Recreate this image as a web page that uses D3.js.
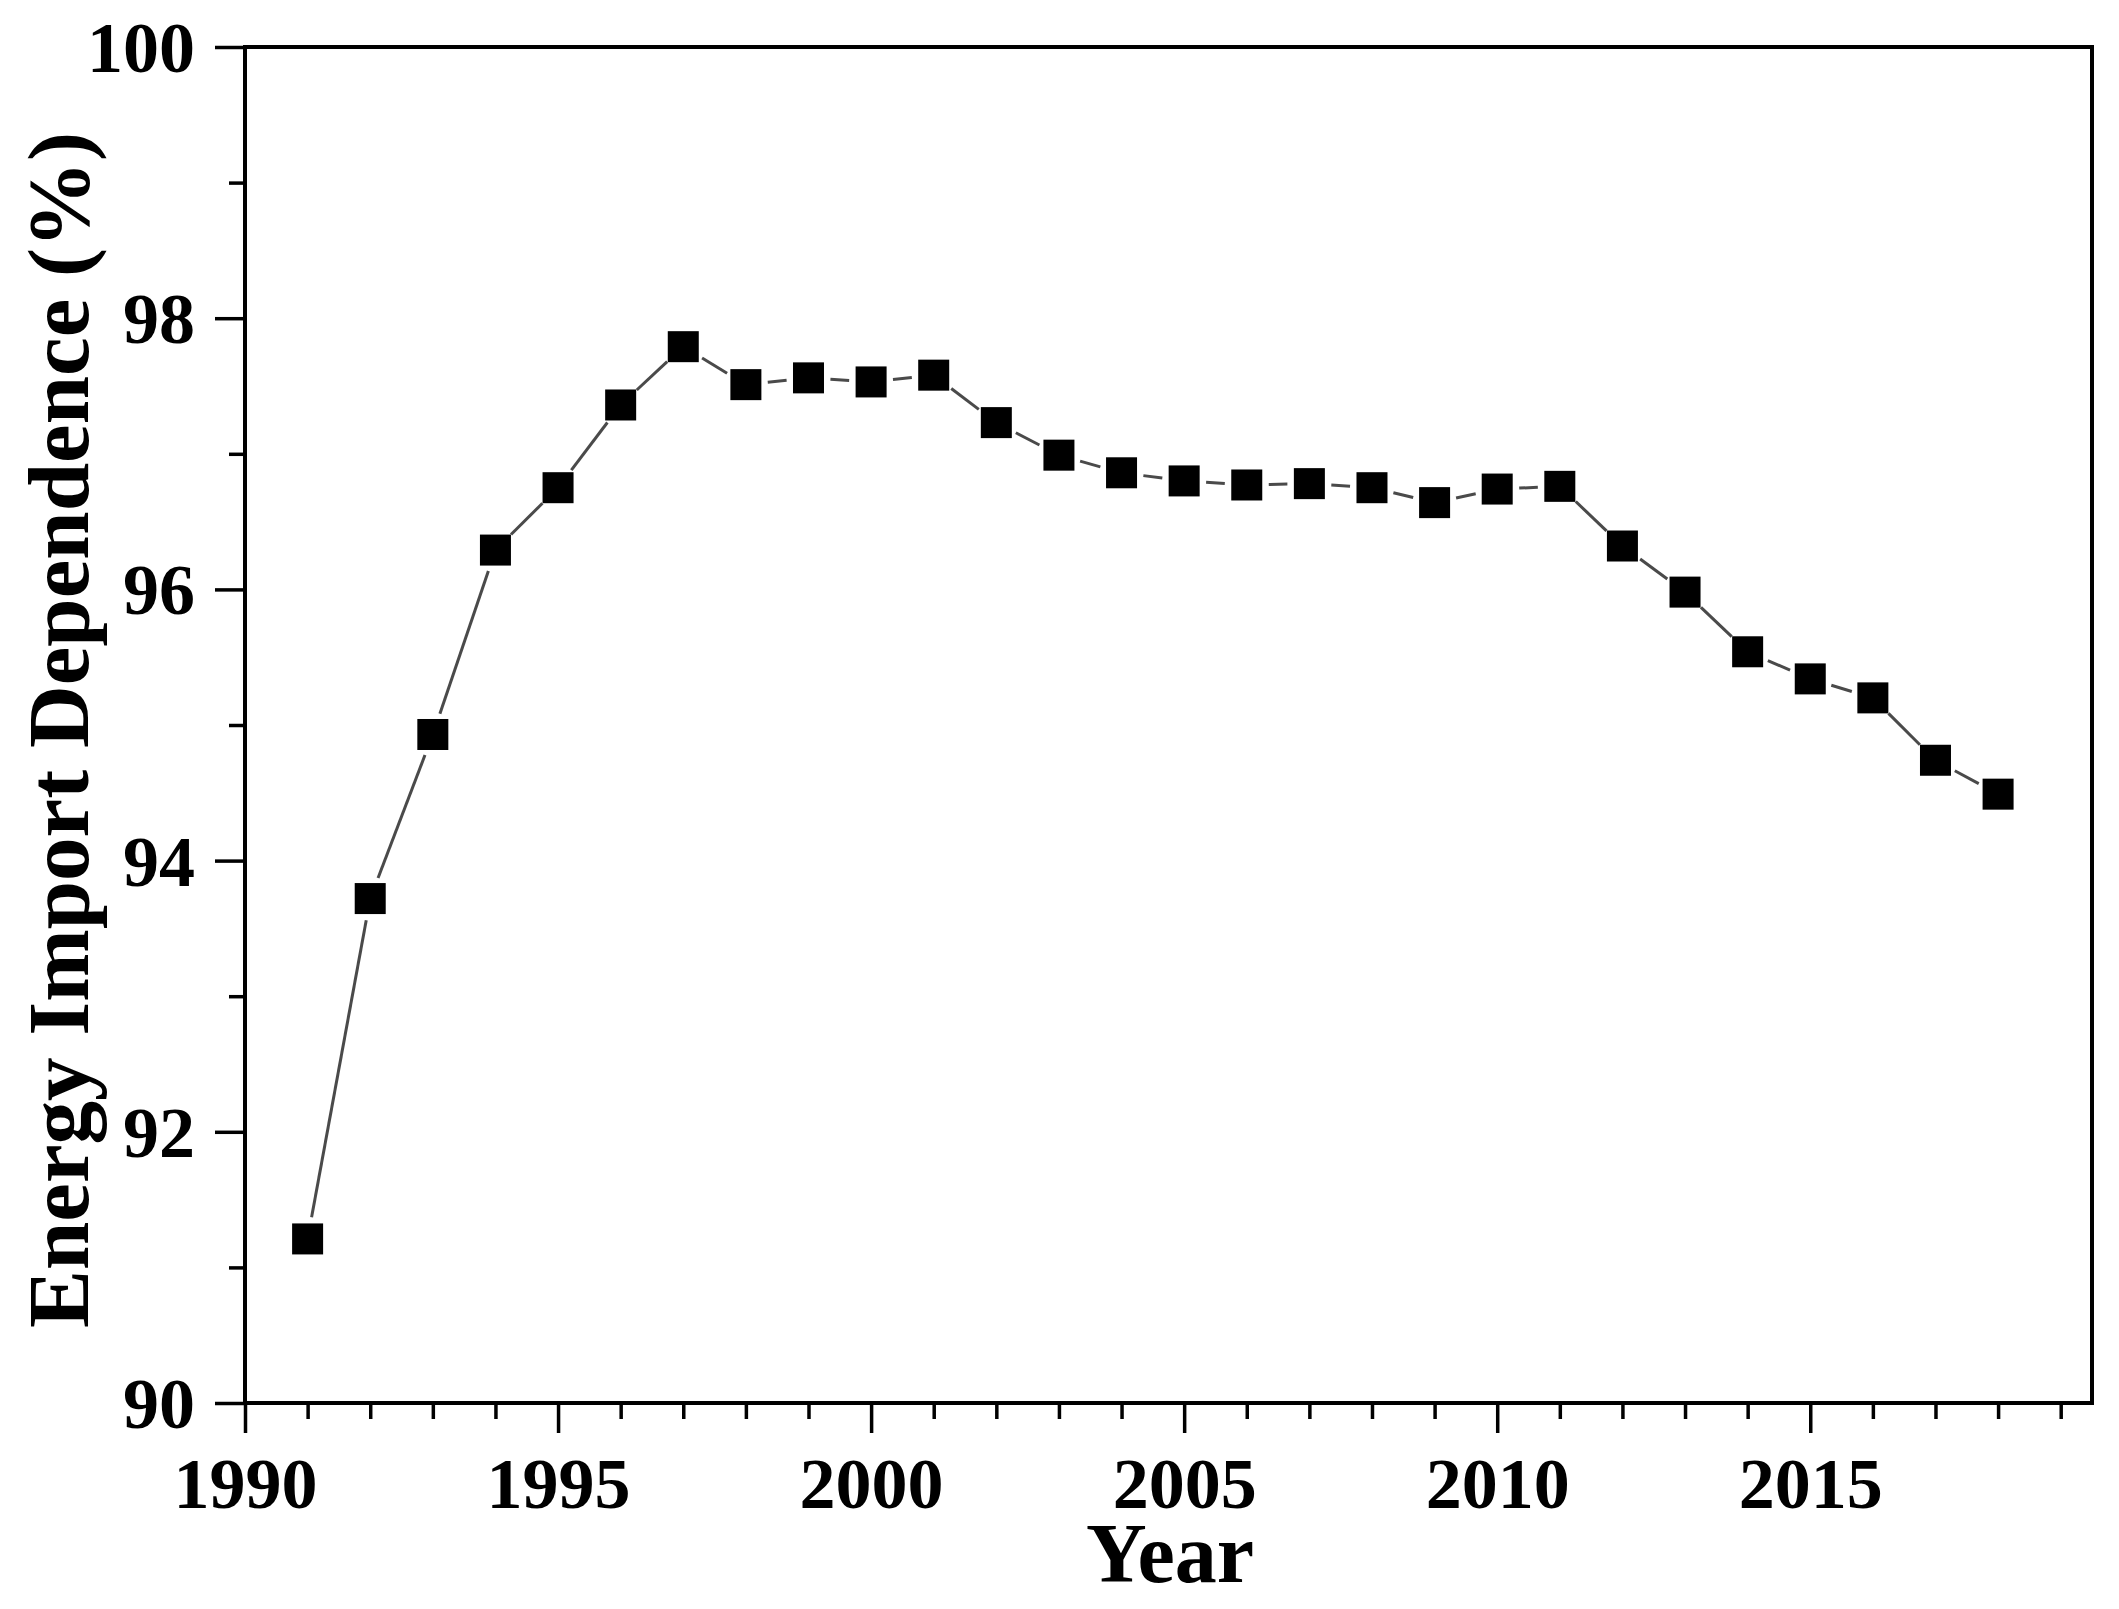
<!DOCTYPE html>
<html>
<head>
<meta charset="utf-8">
<script src="https://cdn.jsdelivr.net/npm/d3@7"></script>
<style>
  html, body { margin: 0; padding: 0; background: #fff; }
  svg { display: block; }
  text { font-family: "Liberation Serif", "Times New Roman", serif; font-weight: bold; fill: #000; }
</style>
</head>
<body>
<svg id="chart"></svg>
<script>
// Data
const years = [1991, 1992, 1993, 1994, 1995, 1996, 1997, 1998, 1999, 2000,
               2001, 2002, 2003, 2004, 2005, 2006, 2007, 2008, 2009, 2010,
               2011, 2012, 2013, 2014, 2015, 2016, 2017, 2018];
const dependence = [91.21, 93.72, 94.93, 96.29, 96.75, 97.36, 97.79, 97.51, 97.56, 97.53,
                    97.58, 97.23, 96.99, 96.86, 96.80, 96.77, 96.78, 96.75, 96.64, 96.74,
                    96.76, 96.32, 95.98, 95.54, 95.34, 95.20, 94.74, 94.49];
const xMajorTicks = [1990, 1995, 2000, 2005, 2010, 2015];
const xMinorTicks = d3.range(1991, 2020).filter(y => y % 5 !== 0);
const yMajorTicks = [90, 92, 94, 96, 98, 100];
const yMinorTicks = [91, 93, 95, 97, 99];

const width = 2119, height = 1609;
const margin = { top: 47, right: 27, bottom: 206, left: 245 };

const svg = d3.select('#chart').attr('width', width).attr('height', height);

const x = d3.scaleLinear().domain([1990, 2019.5]).range([margin.left, width - margin.right]);
const y = d3.scaleLinear().domain([90, 100]).range([height - margin.bottom, margin.top]);

const tickFont = 72;

// x axis: major ticks with labels, minor ticks without
svg.append('g')
  .attr('transform', `translate(0,${y(90)})`)
  .call(d3.axisBottom(x).tickValues(xMajorTicks).tickFormat(d3.format('d')).tickSize(30).tickPadding(24))
  .call(g => g.select('.domain').remove())
  .call(g => g.selectAll('.tick line').attr('stroke', '#000').attr('stroke-width', 3.5))
  .call(g => g.selectAll('.tick text').attr('font-size', tickFont).attr('fill', '#000'));

svg.append('g')
  .attr('transform', `translate(0,${y(90)})`)
  .call(d3.axisBottom(x).tickValues(xMinorTicks).tickFormat('').tickSize(16))
  .call(g => g.select('.domain').remove())
  .call(g => g.selectAll('.tick line').attr('stroke', '#000').attr('stroke-width', 3.5));

// y axis
svg.append('g')
  .attr('transform', `translate(${x(1990)},0)`)
  .call(d3.axisLeft(y).tickValues(yMajorTicks).tickFormat(d3.format('d')).tickSize(30).tickPadding(20))
  .call(g => g.select('.domain').remove())
  .call(g => g.selectAll('.tick line').attr('stroke', '#000').attr('stroke-width', 3.5))
  .call(g => g.selectAll('.tick text').attr('font-size', tickFont).attr('fill', '#000').attr('dy', '0.34em'));

svg.append('g')
  .attr('transform', `translate(${x(1990)},0)`)
  .call(d3.axisLeft(y).tickValues(yMinorTicks).tickFormat('').tickSize(16))
  .call(g => g.select('.domain').remove())
  .call(g => g.selectAll('.tick line').attr('stroke', '#000').attr('stroke-width', 3.5));

// frame
svg.append('rect')
  .attr('x', x(1990)).attr('y', y(100))
  .attr('width', x(2019.5) - x(1990)).attr('height', y(90) - y(100))
  .attr('fill', 'none').attr('stroke', '#000').attr('stroke-width', 4);

// connecting line, with a gap round each symbol
const pts = years.map((yr, i) => [x(yr), y(dependence[i])]);
const gap = 22;
const segs = d3.pairs(pts).map(([a, b]) => {
  const dx = b[0] - a[0], dy = b[1] - a[1];
  const len = Math.hypot(dx, dy);
  const ux = dx / len, uy = dy / len;
  return [a[0] + ux * gap, a[1] + uy * gap, b[0] - ux * gap, b[1] - uy * gap];
});
svg.append('g').selectAll('line')
  .data(segs)
  .join('line')
  .attr('x1', d => d[0]).attr('y1', d => d[1])
  .attr('x2', d => d[2]).attr('y2', d => d[3])
  .attr('stroke', '#4a4a4a').attr('stroke-width', 3);

// square markers
const ms = 31;
svg.append('g').selectAll('rect')
  .data(years)
  .join('rect')
  .attr('x', (d, i) => x(d) - ms / 2)
  .attr('y', (d, i) => y(dependence[i]) - ms / 2)
  .attr('width', ms).attr('height', ms)
  .attr('fill', '#000');

// axis titles
svg.append('text')
  .attr('x', 1170).attr('y', 1582)
  .attr('text-anchor', 'middle')
  .attr('font-size', 84)
  .text('Year');

svg.append('text')
  .attr('transform', `translate(88,${(y(90) + y(100)) / 2 + 5}) rotate(-90)`)
  .attr('text-anchor', 'middle')
  .attr('font-size', 87)
  .text('Energy Import Dependence (%)');
</script>
</body>
</html>
